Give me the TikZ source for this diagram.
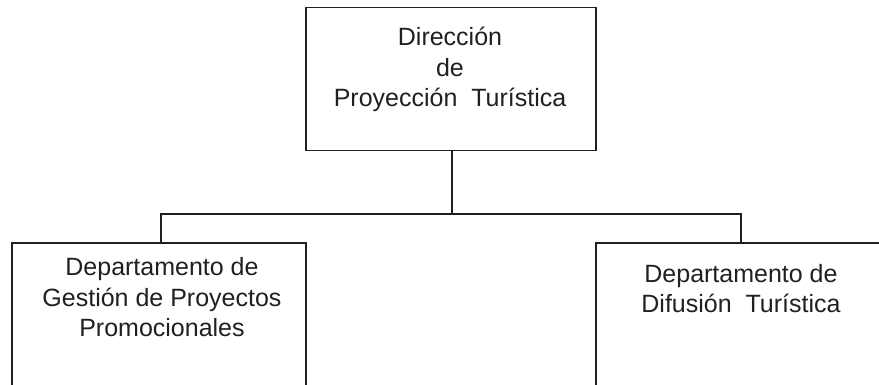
\documentclass[tikz,border=0pt]{standalone}
\usepackage{fontspec}
\setmainfont{Liberation Sans}
\definecolor{ink}{HTML}{231F20}
\begin{document}
\begin{tikzpicture}[x=1pt,y=-1pt,
  box/.style={draw=ink, line width=1.5pt, inner sep=0pt, anchor=north west},
  lbl/.style={text=ink, font=\fontsize{25}{30.5}\selectfont, align=center, anchor=base, inner sep=0pt},
  conn/.style={draw=ink, line width=1.5pt}]
\useasboundingbox (0,0) rectangle (879,385);
\clip (0,0) rectangle (879,385);
\node[box, minimum width=290pt, minimum height=143pt] (dir) at (305,7) {};
\node[box, minimum width=294pt, minimum height=200pt] (left) at (11,242) {};
\node[box, minimum width=310pt, minimum height=200pt] (right) at (595,242) {};
\node[lbl] (dirtext) at (450,107) {Dirección\\de\\Proyección~~Turística};
\node[lbl] (lefttext) at (162,336.7) {Departamento de\\Gestión de Proyectos\\Promocionales};
\node[lbl] (righttext) at (741,312.7) {Departamento de\\Difusión~~Turística};
\coordinate (j) at (452,214);
\coordinate (jl) at (161,214);
\coordinate (jr) at (741,214);
\draw[conn] (j |- dir.south) -- (j);
\draw[conn] (jl |- left.north) -- (jl) -- (jr) -- (jr |- right.north);
\end{tikzpicture}
\end{document}
